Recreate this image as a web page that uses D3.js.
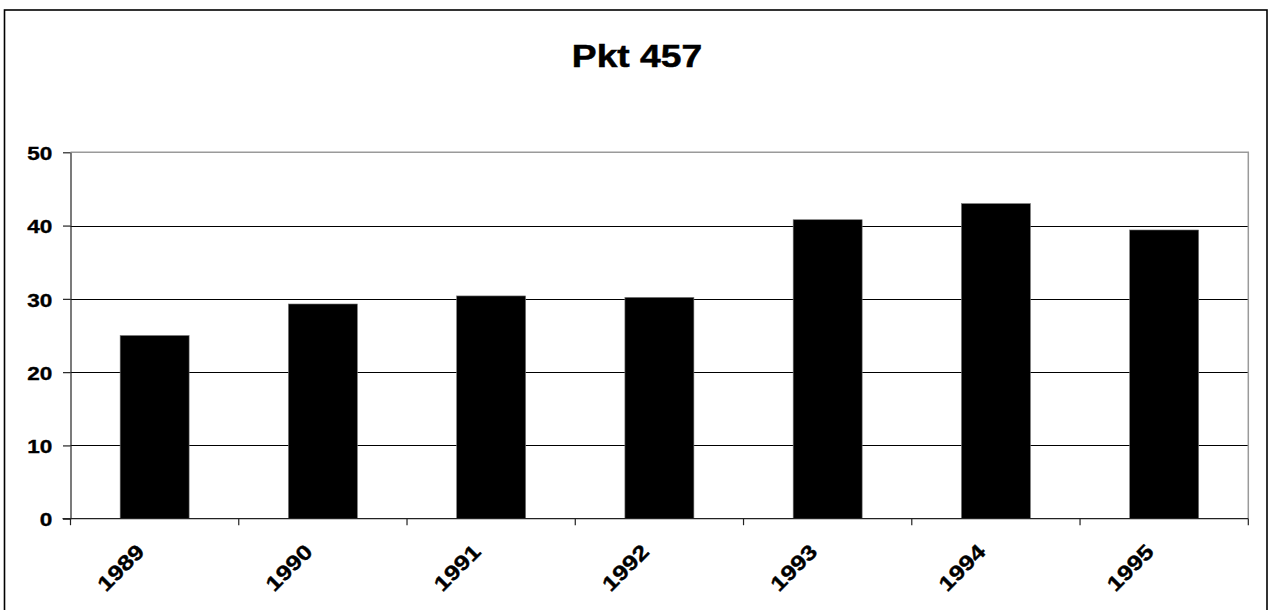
<!DOCTYPE html>
<html>
<head>
<meta charset="utf-8">
<script src="https://cdn.jsdelivr.net/npm/d3@7"></script>
<style>
html,body{margin:0;padding:0;background:#fff;}
svg{display:block;}
text{font-family:"Liberation Sans",Arial,sans-serif;font-weight:bold;fill:#000;stroke:#000;stroke-width:0.35px;}
</style>
</head>
<body>
<svg id="chart" width="1271" height="610"></svg>
<script>
const title = "Pkt 457";
const years = ["1989","1990","1991","1992","1993","1994","1995"];
const values = [25.0, 29.3, 30.4, 30.2, 40.8, 43.0, 39.4];
const yTicks = [0, 10, 20, 30, 40, 50];

const svg = d3.select("#chart");
const L = 70.5, R = 1248.3, T = 152.3, B = 518.7;

// outer border
svg.append("rect").attr("x", 4.5).attr("y", 10).attr("width", 1262.5).attr("height", 610)
  .attr("fill", "none").attr("stroke", "#000").attr("stroke-width", 1.6);

const x = d3.scaleBand().domain(years).range([L, R]).paddingInner(0.59).paddingOuter(0.295);
const y = d3.scaleLinear().domain([0, 50]).range([B, T]);

// gridlines
svg.append("g").selectAll("line").data(yTicks.filter(d => d > 0 && d < 50)).join("line")
  .attr("x1", L).attr("x2", R).attr("y1", d => Math.round(y(d)) + 0.5).attr("y2", d => Math.round(y(d)) + 0.5)
  .attr("stroke", "#000").attr("stroke-width", 1);

// plot border top/right (gray)
svg.append("path").attr("d", `M${L},${T}H${R}V${B}`).attr("fill", "none")
  .attr("stroke", "#9a9a9a").attr("stroke-width", 1.5);

// bars
svg.append("g").selectAll("rect").data(years).join("rect")
  .attr("x", d => x(d)).attr("width", x.bandwidth())
  .attr("y", (d, i) => y(values[i])).attr("height", (d, i) => y(0) - y(values[i]))
  .attr("fill", "#000").attr("stroke", "#777").attr("stroke-width", 0.6);

// y axis
const yAxis = d3.axisLeft(y).tickValues(yTicks).tickSize(7.5).tickPadding(11).tickSizeOuter(0);
const gy = svg.append("g").attr("transform", `translate(${L},0)`).call(yAxis);
gy.attr("font-family", null).attr("font-size", null);
gy.select(".domain").attr("stroke", "#222").attr("stroke-width", 1.2);
gy.selectAll(".tick line").attr("stroke", "#222").attr("stroke-width", 1.2);
gy.selectAll(".tick text").attr("font-size", 18.5)
  .attr("dy", null).attr("dominant-baseline", "central")
  .attr("x", null)
  .attr("transform", "translate(-18.2,0.5) scale(1.22,1)");

// x axis with ticks at category boundaries
const gx = svg.append("g");
gx.append("line").attr("x1", L - 8).attr("x2", R).attr("y1", B).attr("y2", B)
  .attr("stroke", "#222").attr("stroke-width", 1.2);
const boundaries = d3.range(years.length + 1).map(i => L + i * x.step());
gx.selectAll("line.tk").data(boundaries).join("line").attr("class", "tk")
  .attr("x1", d => d).attr("x2", d => d).attr("y1", B).attr("y2", B + 6.5)
  .attr("stroke", "#222").attr("stroke-width", 1.2);
gx.selectAll("text").data(years).join("text")
  .attr("transform", d => `translate(${x(d) + x.bandwidth() / 2 - 9},${553}) rotate(-45) scale(1.2,1)`)
  .attr("text-anchor", "end").attr("font-size", 21).text(d => d);

// title
svg.append("text").attr("transform", "translate(637,66.7) scale(1.2,1)")
  .attr("text-anchor", "middle").attr("font-size", 31).style("stroke-width", "0.5px").text(title);
</script>
</body>
</html>
